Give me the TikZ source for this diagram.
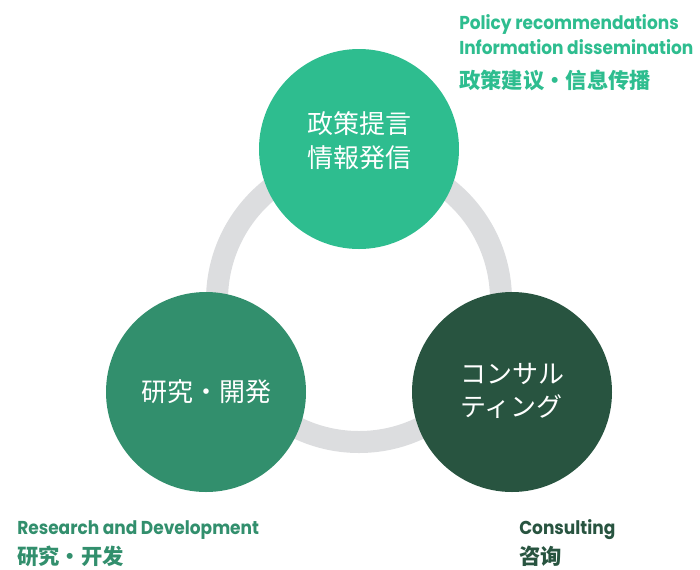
\documentclass[tikz,border=0pt]{standalone}
\usepackage{fontspec}
\setmainfont{Poppins}
\newfontfamily\jpfont{Noto Sans CJK JP}
\newfontfamily\scfont{Noto Sans CJK SC}
\newfontfamily\enfont{Poppins}[FakeStretch=0.91]
\usetikzlibrary{positioning}
\definecolor{policygreen}{HTML}{2EBD8F}
\definecolor{researchgreen}{HTML}{328F6D}
\definecolor{consultgreen}{HTML}{285440}
\definecolor{ringgray}{HTML}{DCDDDF}
\tikzset{
    %Define style for the ring behind the circles
    ring/.style={
           draw=ringgray,
           line width=16.5pt},
    %Define style for the circles
    bubble/.style={
           circle,
           minimum size=150pt,
           inner sep=0pt},
    %Define style for the text inside the circles
    bubbletext/.style={
           text=white,
           inner sep=0pt,
           align=center,
           font=\jpfont\fontsize{19.5}{25}\selectfont},
    %Define style for the english captions
    caption/.style={
           anchor=base west,
           inner sep=0pt,
           font=\enfont\bfseries\fontsize{14}{19}\selectfont},
    %Define style for the chinese captions
    subcaption/.style={
           anchor=base west,
           inner sep=0pt,
           font=\scfont\bfseries\fontsize{16}{19}\selectfont}
}
\begin{document}
\begin{tikzpicture}[x=0.75pt,y=-0.75pt]
 \useasboundingbox (0,0) rectangle (700,569);

 \coordinate (hub) at (359,300);
 \draw[ring] (hub) circle[radius=106.5pt];

 % the three circles
 \node[bubble, fill=policygreen] (policy) at (359,149) {};
 \node[bubble, fill=researchgreen] (research) at (206,392) {};
 \node[bubble, fill=consultgreen] (consult) at (512,392) {};

 \node[bubbletext] (policytext) at ([yshift=6.3pt]policy.center) {政策提言\\情報発信};
 \node[bubbletext] (researchtext) at (research.center) {研究・開発};
 \node[bubbletext, align=left] (consulttext) at ([yshift=1pt]consult.center) {コンサル\\ティング};

 % captions
 \node[caption, text=policygreen] (policyen) at (459,29) {Policy recommendations};
 \node[caption, text=policygreen] (policyen2) at (459,54) {Information dissemination};
 \node[subcaption, text=policygreen] (policycn) at (459,88) {政策建议・信息传播};

 \node[caption, text=researchgreen] (researchen) at (17,534) {Research and Development};
 \node[subcaption, text=researchgreen] (researchcn) at (17,564) {研究・开发};

 \node[caption, text=consultgreen] (consulten) at (519,534) {Consulting};
 \node[subcaption, text=consultgreen] (consultcn) at (519,564) {咨询};
\end{tikzpicture}
\end{document}
